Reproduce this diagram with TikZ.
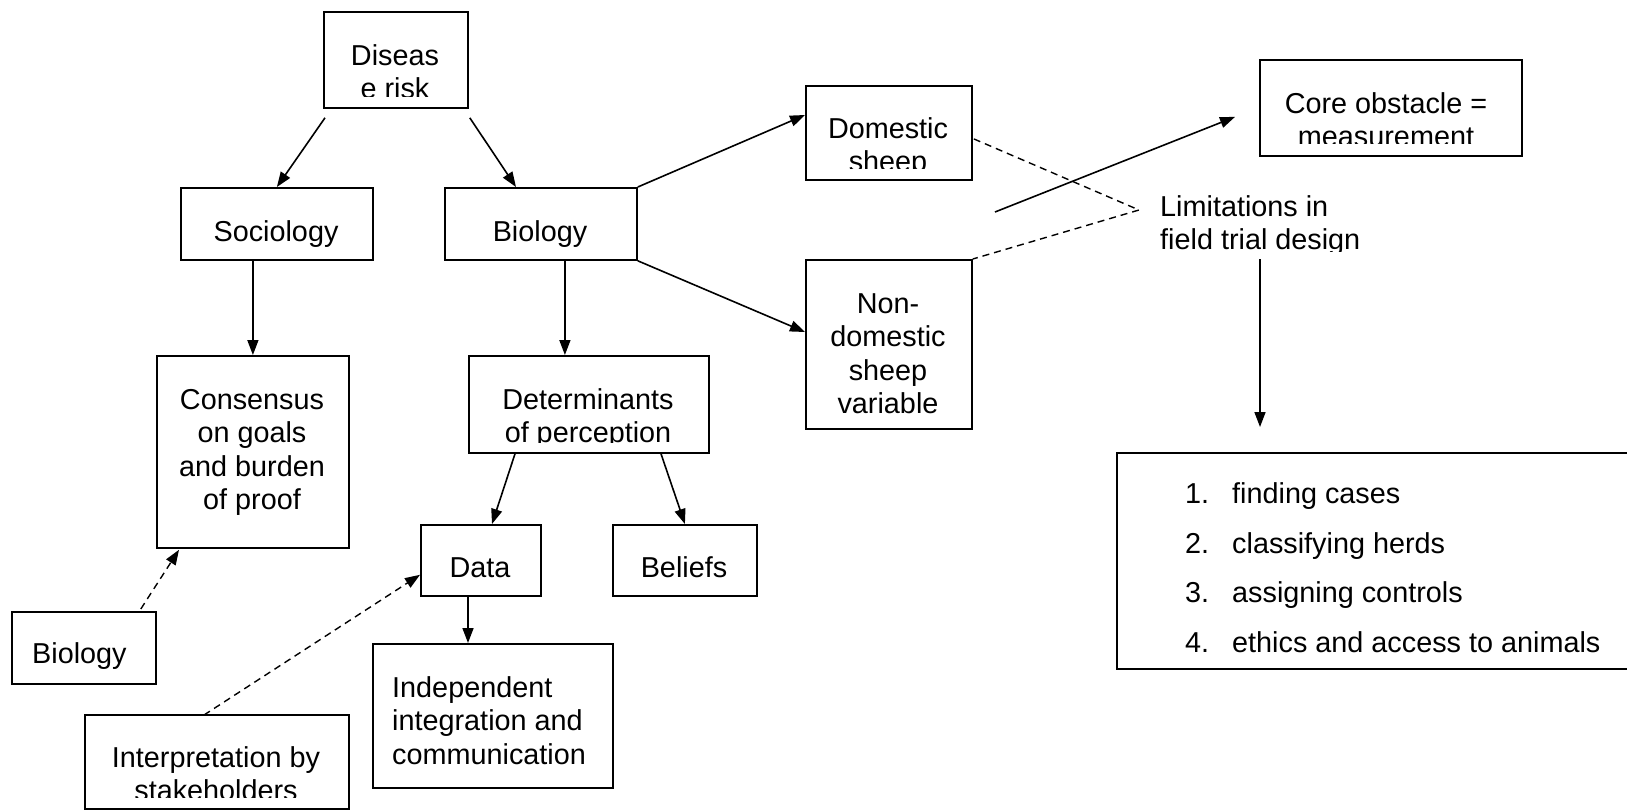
\documentclass[tikz,border=0pt]{standalone}
\usepackage{fontspec}
\setmainfont{Liberation Sans}
\usetikzlibrary{arrows.meta,calc}
\newcommand\mylines[2][c]{\begin{tabular}[t]{@{}#1@{}}#2\end{tabular}}
\tikzset{
  box/.style={draw, line width=1.8pt, inner sep=0pt, anchor=north west},
  txt/.style={font=\fontsize{28.8}{33.5}\selectfont, inner sep=0pt, anchor=base},
  txtl/.style={txt, anchor=base west},
  arr/.style={-{Triangle[length=15pt,width=11pt]}, line width=1.6pt},
  darr/.style={-{Triangle[length=15pt,width=11pt]}, line width=1.4pt, dash pattern=on 7pt off 5pt},
  dline/.style={line width=1.4pt, dash pattern=on 7pt off 5pt},
}
\begin{document}
\begin{tikzpicture}[x=1pt,y=-1pt]
\useasboundingbox (0,0) rectangle (1627,809);
% boxes
\node[box, minimum width=144pt, minimum height=96pt] (dis) at (323,11) {};
\node[box, minimum width=192pt, minimum height=72pt] (soc) at (180,187) {};
\node[box, minimum width=192pt, minimum height=72pt] (bio) at (444,187) {};
\node[box, minimum width=192pt, minimum height=192pt] (con) at (156,355) {};
\node[box, minimum width=240pt, minimum height=97pt] (det) at (468,355) {};
\node[box, minimum width=166pt, minimum height=94pt] (dom) at (805,85) {};
\node[box, minimum width=166pt, minimum height=169pt] (non) at (805,259) {};
\node[box, minimum width=262pt, minimum height=96pt] (core) at (1259,59) {};
\node[box, minimum width=120pt, minimum height=71pt] (data) at (420,524) {};
\node[box, minimum width=144pt, minimum height=71pt] (bel) at (612,524) {};
\node[box, minimum width=144pt, minimum height=72pt] (biol) at (11,611) {};
\node[box, minimum width=240pt, minimum height=144pt] (ind) at (372,643) {};
\node[box, minimum width=264pt, minimum height=94pt] (int) at (84,714) {};
\node[box, minimum width=540pt, minimum height=216pt] (lst) at (1116,452) {};
% texts
\begin{scope}
  \clip (325,13) rectangle (465,96);
  \node[txt] (tdis) at (395,65) {\mylines{Diseas\\e risk}};
\end{scope}
\node[txt] (tsoc) at (276,241) {Sociology};
\node[txt] (tbio) at (540,241) {Biology};
\node[txt] (tcon) at (252,409) {\mylines{Consensus\\on goals\\and burden\\of proof}};
\begin{scope}
  \clip (470,357) rectangle (706,442);
  \node[txt] (tdet) at (588,409) {\mylines{Determinants\\of perception}};
\end{scope}
\begin{scope}
  \clip (807,87) rectangle (969,168);
  \node[txt] (tdom) at (888,138) {\mylines{Domestic\\sheep}};
\end{scope}
\node[txt] (tnon) at (888,313) {\mylines{Non-\\domestic\\sheep\\variable}};
\begin{scope}
  \clip (1261,61) rectangle (1519,143.5);
  \node[txt] (tcore) at (1386,113) {\mylines{Core obstacle =\\measurement}};
\end{scope}
\begin{scope}
  \clip (1150,180) rectangle (1460,251);
  \node[txtl] (lim) at (1160,216) {\mylines[l]{Limitations in\\field trial design}};
\end{scope}
\node[txt] (tdata) at (480,577) {Data};
\node[txt] (tbel) at (684,577) {Beliefs};
\node[txtl] (tbiol) at (32,663) {Biology};
\node[txtl] (tind) at (392,697) {\mylines[l]{Independent\\integration and\\communication}};
\begin{scope}
  \clip (86,716) rectangle (346,797);
  \node[txt] (tint) at (216,767) {\mylines{Interpretation by\\stakeholders}};
\end{scope}
% list
\node[txtl] (n1) at (1185,503) {1.};
\node[txtl] (i1) at (1232,503) {finding cases};
\node[txtl] (n2) at (1185,553) {2.};
\node[txtl] (i2) at (1232,553) {classifying herds};
\node[txtl] (n3) at (1185,602) {3.};
\node[txtl] (i3) at (1232,602) {assigning controls};
\node[txtl] (n4) at (1185,652) {4.};
\node[txtl] (i4) at (1232,652) {ethics and access to animals};
% coordinates for free ends
\coordinate (vtx) at (1139,210);
\coordinate (ustart) at (995,212);
\coordinate (dstart) at (1260,259);
\coordinate (dend) at (1260,427);
% connectors
\draw[arr] ($(dis.south west)+(2,9)$) -- (soc.north);
\draw[arr] ($(dis.south east)+(1,9)$) -- ($(bio.north west)+(72,0)$);
\draw[arr] (con.north |- soc.south) -- (con.north);
\draw[arr] ($(bio.south)+(24,0)$) -- ($(det.north)+(-24,0)$);
\draw[arr] (bio.north east) -- ($(dom.north west)+(0,30)$);
\draw[arr] (bio.south east) -- ($(non.north west)+(0,73)$);
\draw[arr] ($(det.south west)+(47,0)$) -- ($(data.north west)+(72,0)$);
\draw[arr] ($(det.south west)+(193,0)$) -- (bel.north);
\draw[arr] ($(data.south west)+(48,0)$) -- ($(ind.north west)+(96,0)$);
\draw[darr] ($(biol.north east)+(-16,-2)$) -- ($(con.south west)+(23,1)$);
\draw[darr] ($(int.north west)+(120,1)$) -- ($(data.south west)+(0,-22)$);
\draw[dline] ($(dom.east)+(1,6)$) -- (vtx) -- (non.north east);
\draw[arr] (ustart) -- ($(core.west)+(-24,9)$);
\draw[arr] (dstart) -- (dend);
\end{tikzpicture}
\end{document}
